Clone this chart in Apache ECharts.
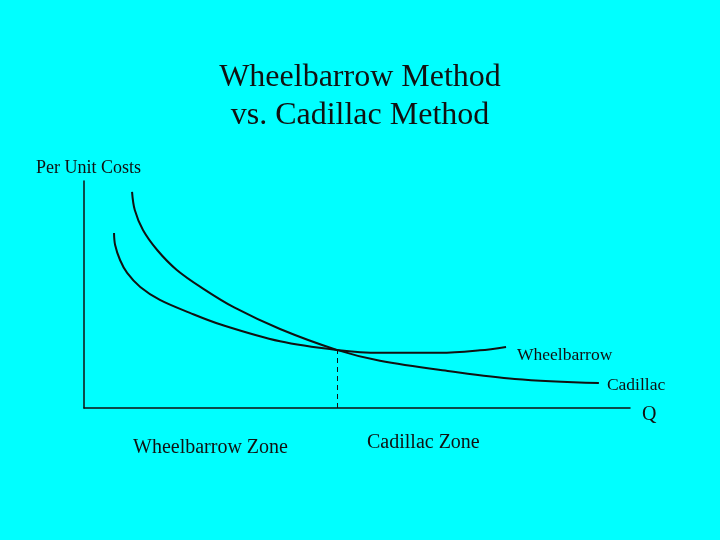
<!DOCTYPE html>
<html><head><meta charset="utf-8">
<script src="https://cdn.jsdelivr.net/npm/echarts@6/dist/echarts.min.js"></script>
<style>html,body{margin:0;padding:0;background:#00FFFF}#c{width:720px;height:540px}</style>
</head><body><div id="c"></div>
<script>
// Quantity (x) vs per unit cost (y), arbitrary units 0-100
const cadillacX = [8.8, 9.3, 10.8, 13.4, 17.0, 21.8, 27.5, 35.9, 46.3, 54.2, 67.0, 78.9, 94.3];
const cadillacY = [95.2, 87.2, 78.4, 69.6, 60.8, 52.6, 44.3, 34.8, 25.6, 20.8, 16.2, 12.8, 11.0];
const wheelX = [5.5, 5.7, 6.6, 7.9, 10.3, 13.9, 19.4, 24.9, 35.9, 46.3, 54.2, 65.2, 72.5, 77.3];
const wheelY = [77.1, 71.8, 65.2, 59.5, 53.3, 47.6, 41.9, 36.9, 29.4, 25.6, 24.3, 24.3, 25.4, 26.9];
const crossX = 46.3, crossY = 25.6;
const seriesNames = ['Wheelbarrow', 'Cadillac'];
const titleText = 'Wheelbarrow Method\nvs. Cadillac Method';
const yAxisTitle = 'Per Unit Costs';
const xAxisTitle = 'Q';
const zoneLabels = ['Wheelbarrow Zone', 'Cadillac Zone'];

const serif = '"Liberation Serif", "Times New Roman", serif';
const ink = '#111';
const chart = echarts.init(document.getElementById('c'));
const zip = (xs, ys) => xs.map((x, i) => [x, ys[i]]);
chart.setOption({
  backgroundColor: '#00FFFF',
  animation: false,
  title: {
    text: titleText, left: 'center', top: 54,
    textStyle: { fontFamily: serif, fontSize: 32, fontWeight: 'normal', color: ink, lineHeight: 38 }
  },
  grid: { left: 84, right: 90, top: 181, bottom: 132 },
  xAxis: {
    type: 'value', min: 0, max: 100,
    axisLine: { show: true, onZero: false, lineStyle: { color: ink, width: 1.5 } },
    axisTick: { show: false }, axisLabel: { show: false }, splitLine: { show: false }
  },
  yAxis: {
    type: 'value', min: 0, max: 100,
    axisLine: { show: true, onZero: false, lineStyle: { color: ink, width: 1.5 } },
    axisTick: { show: false }, axisLabel: { show: false }, splitLine: { show: false }
  },
  series: [
    {
      name: seriesNames[0], type: 'line', smooth: 0.35, symbol: 'none',
      data: zip(wheelX, wheelY),
      lineStyle: { color: ink, width: 2 },
      endLabel: { show: true, formatter: seriesNames[0], offset: [3, 8],
        fontFamily: serif, fontSize: 17.5, color: ink }
    },
    {
      name: seriesNames[1], type: 'line', smooth: 0.35, symbol: 'none',
      data: zip(cadillacX, cadillacY),
      lineStyle: { color: ink, width: 2 },
      endLabel: { show: true, formatter: seriesNames[1], offset: [0, 2],
        fontFamily: serif, fontSize: 17.5, color: ink },
      markLine: {
        silent: true, symbol: 'none', label: { show: false },
        lineStyle: { color: ink, type: [5, 4], width: 1 },
        data: [[{ coord: [crossX, 0] }, { coord: [crossX, crossY] }]]
      }
    }
  ],
  graphic: [
    { type: 'text', left: 36, top: 159, style: { text: yAxisTitle, font: '18px ' + serif, fill: ink } },
    { type: 'text', left: 642, top: 405, style: { text: xAxisTitle, font: '20px ' + serif, fill: ink } },
    { type: 'text', left: 133, top: 438, style: { text: zoneLabels[0], font: '20px ' + serif, fill: ink } },
    { type: 'text', left: 367, top: 433, style: { text: zoneLabels[1], font: '20px ' + serif, fill: ink } }
  ]
});
</script></body></html>
